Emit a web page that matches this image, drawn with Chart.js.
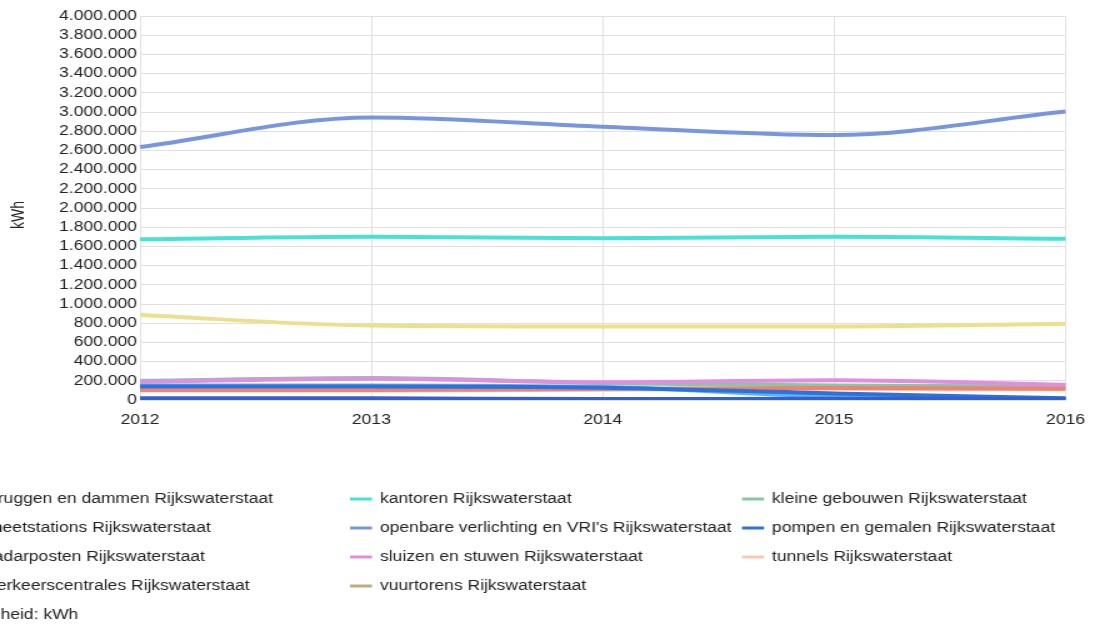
<!DOCTYPE html>
<html lang="nl">
<head>
<meta charset="utf-8">
<title>Energieverbruik Rijkswaterstaat</title>
<script src="https://cdn.jsdelivr.net/npm/chart.js@4.4.1/dist/chart.umd.min.js"></script>
<style>
  html, body { margin: 0; padding: 0; background: #fff; overflow: hidden; }
  #chart { display: block; }
</style>
</head>
<body>
<!-- drawn at 880px wide and shown 1100px wide (wide-set text) -->
<canvas id="chart" width="880" height="628" style="width:1100px;height:628px;"></canvas>
<script>
// Jaren (x-as)
const years = ['2012', '2013', '2014', '2015', '2016'];

// Verbruik per objectsoort, kWh
const bruggenEnDammen     = [885000, 775000, 765000, 765000, 795000];
const kantoren            = [1674000, 1701000, 1684000, 1701000, 1680000];
const kleineGebouwen      = [200000, 228000, 175000, 150000, 140000];
const meetstations        = [104000, 104000, 115000, 125000, 118000];
const openbareVerlichting = [2635000, 2944000, 2847000, 2760000, 3005000];
const pompenEnGemalen     = [140000, 140000, 128000, 69000, 18000];
const radarposten         = [18000, 17000, 10000, 12000, 10000];
const sluizenEnStuwen     = [190000, 222000, 185000, 205000, 160000];
const tunnels             = [98000, 100000, 108000, 118000, 112000];
const verkeerscentrales   = [152000, 152000, 135000, 35000, 10000];
const vuurtorens          = [6000, 6000, 5000, 5000, 5000];

// Y-as
const yMin = 0;
const yMax = 4000000;
const yStep = 200000;
const unitLabel = 'kWh';
const unitNote = 'Eenheid: kWh';

const series = [
  { label: 'bruggen en dammen Rijkswaterstaat', data: bruggenEnDammen, color: '#ece08e', order: 5 },
  { label: 'kantoren Rijkswaterstaat', data: kantoren, color: '#45e2d6', order: 1 },
  { label: 'kleine gebouwen Rijkswaterstaat', data: kleineGebouwen, color: '#84c9a2', order: 9 },
  { label: 'meetstations Rijkswaterstaat', data: meetstations, color: '#f2826f', order: 7 },
  { label: "openbare verlichting en VRI's Rijkswaterstaat", data: openbareVerlichting, color: '#7896e0', order: 0 },
  { label: 'pompen en gemalen Rijkswaterstaat', data: pompenEnGemalen, color: '#2a72de', order: 3 },
  { label: 'radarposten Rijkswaterstaat', data: radarposten, color: '#355ecf', order: 2 },
  { label: 'sluizen en stuwen Rijkswaterstaat', data: sluizenEnStuwen, color: '#e08fe0', order: 6 },
  { label: 'tunnels Rijkswaterstaat', data: tunnels, color: '#ffc6ac', order: 10 },
  { label: 'verkeerscentrales Rijkswaterstaat', data: verkeerscentrales, color: '#5fb2f0', order: 4 },
  { label: 'vuurtorens Rijkswaterstaat', data: vuurtorens, color: '#bcae82', order: 11 }
];

const FONT = '"Liberation Sans", Arial, "DejaVu Sans", sans-serif';
const TEXT = '#222';
const GRID = '#e0e0e0';

function dotted(v) {
  return String(Math.round(v)).replace(/\B(?=(\d{3})+(?!\d))/g, '.');
}

// Axis unit, legend in three columns underneath the plot, and the unit note
const bottomLegend = {
  id: 'bottomLegend',
  afterDraw(chart) {
    const ctx = chart.ctx;
    const colX = [-9.6, 304, 617.6];
    const rowY = [499, 528, 557, 586, 615];
    ctx.save();
    ctx.font = '14px ' + FONT;
    ctx.fillStyle = TEXT;

    // y-axis unit, rotated
    ctx.save();
    ctx.translate(14.8, 215);
    ctx.rotate(-Math.PI / 2);
    ctx.textAlign = 'center';
    ctx.textBaseline = 'middle';
    ctx.fillText(unitLabel, 0, 0);
    ctx.restore();

    ctx.textBaseline = 'middle';
    ctx.textAlign = 'left';
    chart.data.datasets.forEach((ds, i) => {
      const col = i % 3;
      const row = Math.floor(i / 3);
      const x = colX[col];
      const y = rowY[row];
      ctx.strokeStyle = ds.borderColor;
      ctx.lineWidth = 3;
      ctx.beginPath();
      ctx.moveTo(x - 24, y);
      ctx.lineTo(x - 6.4, y);
      ctx.stroke();
      ctx.fillStyle = TEXT;
      ctx.fillText(ds.label, x, y);
    });
    ctx.fillStyle = TEXT;
    ctx.fillText(unitNote, -24.5, rowY[4]);
    ctx.restore();
  }
};

new Chart(document.getElementById('chart'), {
  type: 'line',
  data: {
    labels: years,
    datasets: series.map(s => ({
      label: s.label,
      data: s.data,
      borderColor: s.color,
      backgroundColor: s.color,
      borderWidth: 4,
      pointRadius: 0,
      pointHoverRadius: 0,
      fill: false,
      cubicInterpolationMode: 'monotone',
      order: s.order
    }))
  },
  options: {
    responsive: false,
    devicePixelRatio: 1,
    animation: false,
    layout: { padding: { top: 16, right: 21.6, bottom: 198, left: 0 } },
    plugins: {
      legend: { display: false },
      tooltip: { enabled: false },
      title: { display: false }
    },
    scales: {
      x: {
        type: 'category',
        offset: false,
        grid: { color: GRID, lineWidth: 1, drawTicks: false },
        border: { display: true, color: GRID },
        ticks: {
          color: TEXT,
          font: { family: FONT, size: 14 },
          padding: 12,
          maxRotation: 0,
          autoSkip: false
        },
        afterFit(scale) { scale.height = 30; }
      },
      y: {
        min: yMin,
        max: yMax,
        grid: { color: GRID, lineWidth: 1, drawTicks: false },
        border: { display: true, color: GRID },
        ticks: {
          stepSize: yStep,
          autoSkip: false,
          color: TEXT,
          font: { family: FONT, size: 14 },
          padding: 2.5,
          callback: v => dotted(v)
        },
        title: { display: false },
        afterFit(scale) { scale.width = 112; }
      }
    }
  },
  plugins: [bottomLegend]
});
</script>
</body>
</html>
